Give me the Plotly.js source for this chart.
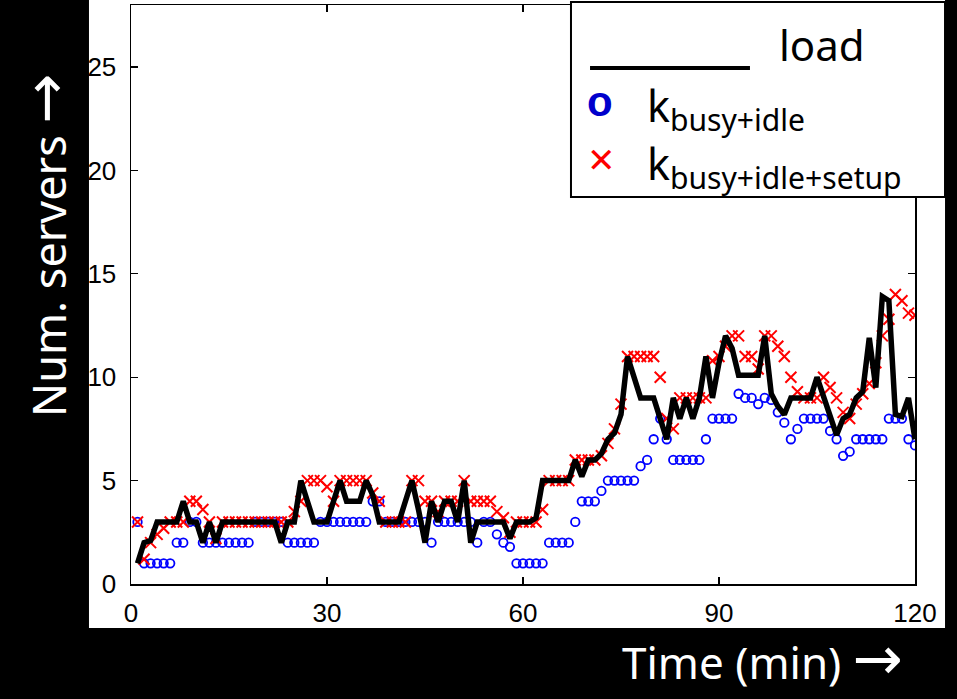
<!DOCTYPE html>
<html>
<head>
<meta charset="utf-8">
<script src="https://cdn.plot.ly/plotly-3.0.1.min.js"></script>
<style>
  html, body { margin: 0; padding: 0; background: #000; }
  #chart { width: 957px; height: 699px; }
</style>
</head>
<body>
<div id="chart"></div>
<script>
// Time in minutes (one sample per minute)
const timeMin = [1,2,3,4,5,6,7,8,9,10,11,12,13,14,15,16,17,18,19,20,
  21,22,23,24,25,26,27,28,29,30,31,32,33,34,35,36,37,38,39,40,
  41,42,43,44,45,46,47,48,49,50,51,52,53,54,55,56,57,58,59,60,
  61,62,63,64,65,66,67,68,69,70,71,72,73,74,75,76,77,78,79,80,
  81,82,83,84,85,86,87,88,89,90,91,92,93,94,95,96,97,98,99,100,
  101,102,103,104,105,106,107,108,109,110,111,112,113,114,115,116,117,118,119,120];

// load (black line)
const load = [1,2,2.1,3,3,3,3,4,3,3, 2,3,2,3,3,3,3,3,3,3,
  3,3,2,3,3,5,4,3,3,3, 4,5,4,4,4,5,4.3,3,3,3,
  3,4,5,3.6,2,4,3,4,4,3, 5,2,3,3,3,3,3,2.2,3,3,
  3,3.2,5,5,5,5,5,6,5.2,6, 6,6.3,7,7.3,8.2,11,10,9,9,9,
  8,7,9,8,9,8,9,11,9,10.7, 12,11.4,10.1,10.1,10.1,10.1,12,9.2,8.6,8.2,
  9,9,9,9,10,9,8,7.2,8,8.2, 9,9.3,11.9,9.5,13.9,13.7,8.2,8.1,9,7];

// k_busy+idle (blue circles)
const kBusyIdle = [3,1,1,1,1,1,2,2,3,3, 2,2,2,2,2,2,2,2,3,3,
  3,3,3,2,2,2,2,2,3,3, 3,3,3,3,3,3,4,4,3,3,
  3,3,3,3,3,2,3,3,3,3, 3,3,2,3,3,2.4,2,1.8,1,1,
  1,1,1,2,2,2,2,3,4,4, 4,4.5,5,5,5,5,5,5.7,6,7,
  8,7,6,6,6,6,6,7,8,8, 8,8,9.2,9,9,8.7,9,8.9,8.3,7.8,
  7,7.5,8,8,8,8,7.4,7,6.2,6.4, 7,7,7,7,7,8,8,8,7,6.7];

// k_busy+idle+setup (red crosses)
const kBusyIdleSetup = [3,1.2,2,2.4,2.7,3,3,3,4,4, 3.6,3,2.2,3,3,3,3,3,3,3,
  3,3,3,3,3.5,4,5,5,5,4.7, 4,5,5,5,5,5,4.4,4,3,3,
  3,3,5,5,4,4,3.5,4,4,4, 5,4,4,4,4,3.5,3.2,2.5,3,3,
  3,3,3.6,5,5,5,5,6,6,6, 6,6.2,6.8,7.5,8.7,11,11,11,11,11,
  10,8,7.5,9,9,9,9,9,10.8,11, 11.5,12,12,11,11,10.4,12,12,11.5,11,
  10,9.3,9,9,9,10,9.5,9,8.3,8, 8.7,9.2,9.7,10.7,12,12.8,14,13.7,13.1,13];

const xTicks = [0, 30, 60, 90, 120];
const yTicks = [0, 5, 10, 15, 20, 25];

const legendLabels = ['load', 'k<sub>busy+idle</sub>', 'k<sub>busy+idle+setup</sub>'];
const arrowSpan = '<span style="font-family:DejaVu Sans;font-size:60px">\u2192</span>';
const xTitle = 'Time (min) ' + arrowSpan;
const yTitle = 'Num. servers ' + arrowSpan;

const titleFont = 'Noto Sans, Open Sans, sans-serif';

const traces = [
  {
    x: timeMin, y: kBusyIdle, type: 'scatter', mode: 'markers', name: 'k busy+idle',
    marker: { symbol: 'circle-open', size: 8.5, color: '#0000ff', line: { width: 1.8, color: '#0000ff' } },
    hoverinfo: 'skip'
  },
  {
    x: timeMin, y: kBusyIdleSetup, type: 'scatter', mode: 'markers', name: 'k busy+idle+setup',
    marker: { symbol: 'x-thin-open', size: 11, color: '#ff0000', line: { width: 2, color: '#ff0000' } },
    hoverinfo: 'skip'
  },
  {
    x: timeMin, y: load, type: 'scatter', mode: 'lines', name: 'load',
    line: { color: '#000000', width: 5.5 },
    hoverinfo: 'skip'
  }
];

const axisCommon = {
  showgrid: false, zeroline: false, showline: true, linecolor: '#000', linewidth: 1.5,
  mirror: 'allticks', ticks: 'inside', ticklen: 7, tickwidth: 1.2, tickcolor: '#000',
  tickfont: { family: 'Liberation Sans, Arial, sans-serif', size: 26, color: '#000' },
  fixedrange: true
};

const layout = {
  width: 957, height: 699,
  paper_bgcolor: '#000000',
  plot_bgcolor: '#ffffff',
  margin: { l: 131, r: 42, t: 5, b: 115, pad: 0 },
  showlegend: false,
  xaxis: Object.assign({}, axisCommon, {
    range: [0, 120], tickvals: xTicks, ticktext: xTicks.map(String), ticklabelstandoff: 5
  }),
  yaxis: Object.assign({}, axisCommon, {
    range: [0, 28], tickvals: yTicks, ticktext: yTicks.map(String), ticklabelstandoff: 8
  }),
  shapes: [
    { type: 'rect', xref: 'paper', yref: 'paper', x0: -0.0536, x1: 1.0383, y0: -0.076, y1: 1.0086,
      fillcolor: '#ffffff', line: { width: 0 }, layer: 'below' },
    { type: 'rect', xref: 'paper', yref: 'paper', x0: 0.5612, x1: 1.0383, y0: 0.6684, y1: 1.0052,
      fillcolor: '#ffffff', line: { width: 2, color: '#000' }, layer: 'above' },
    { type: 'line', xref: 'paper', yref: 'paper', x0: 0.5855, x1: 0.7895, y0: 0.8912, y1: 0.8912,
      line: { width: 4, color: '#000' }, layer: 'above' }
  ],
  annotations: [
    { xref: 'paper', yref: 'paper', x: 0.881, y: 0.931, text: legendLabels[0], showarrow: false,
      font: { family: titleFont, size: 42, color: '#000' }, xanchor: 'center', yanchor: 'middle' },
    { xref: 'paper', yref: 'paper', x: 0.598, y: 0.833, text: '<b>o</b>', showarrow: false,
      font: { family: 'Liberation Sans, Arial, sans-serif', size: 42, color: '#0000cc' }, xanchor: 'center', yanchor: 'middle' },
    { xref: 'paper', yref: 'paper', x: 0.6556, y: 0.822, text: legendLabels[1], showarrow: false,
      font: { family: titleFont, size: 43, color: '#000' }, xanchor: 'left', yanchor: 'middle' },
    { xref: 'paper', yref: 'paper', x: 0.5995, y: 0.732, text: '<b>\u2715</b>', showarrow: false,
      font: { family: 'DejaVu Sans, sans-serif', size: 34, color: '#ff0000' }, xanchor: 'center', yanchor: 'middle' },
    { xref: 'paper', yref: 'paper', x: 0.6556, y: 0.722, text: legendLabels[2], showarrow: false,
      font: { family: titleFont, size: 43, color: '#000' }, xanchor: 'left', yanchor: 'middle' },
    { xref: 'paper', yref: 'paper', x: 0.805, y: -0.128, text: xTitle, showarrow: false,
      font: { family: titleFont, size: 44, color: '#fff' }, xanchor: 'center', yanchor: 'middle' },
    { xref: 'paper', yref: 'paper', x: -0.1097, y: 0.5855, text: yTitle, showarrow: false, textangle: -90,
      font: { family: titleFont, size: 45, color: '#fff' }, xanchor: 'center', yanchor: 'middle' }
  ]
};

Plotly.newPlot('chart', traces, layout, { displayModeBar: false, staticPlot: true });
</script>
</body>
</html>
